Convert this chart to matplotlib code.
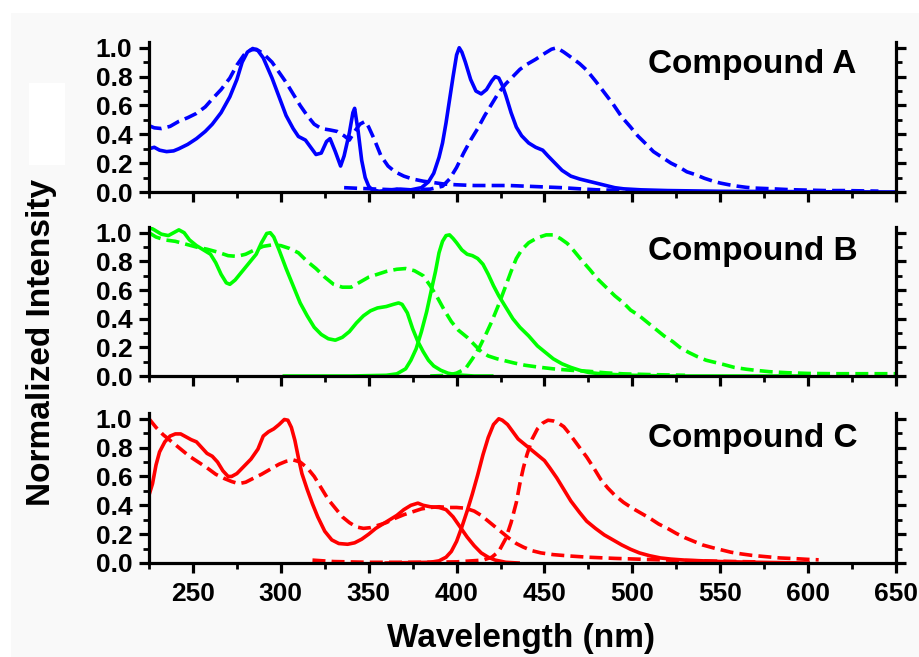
import matplotlib
matplotlib.use('Agg')
import matplotlib.pyplot as plt
from matplotlib.patches import Rectangle
from matplotlib.ticker import MultipleLocator, FormatStrFormatter

# ---------------- data (wavelength nm, normalized intensity) ----------------
# Compound A
A_solid_abs_x = [225, 228, 231, 235, 239, 242, 247, 252, 257, 261, 266, 271, 275, 278, 281, 284, 287, 290,
                 295, 299, 303, 307, 310, 314, 317, 320, 323, 326, 328, 331, 334, 336, 339, 341, 342, 344,
                 346, 348, 350, 352, 356, 360, 366, 370, 376, 382]
A_solid_abs_y = [0.30, 0.31, 0.29, 0.28, 0.285, 0.30, 0.33, 0.37, 0.42, 0.47, 0.55, 0.66, 0.78, 0.90, 0.97,
                 0.995, 0.98, 0.93, 0.79, 0.66, 0.53, 0.44, 0.385, 0.36, 0.31, 0.26, 0.27, 0.35, 0.37, 0.28,
                 0.18, 0.25, 0.41, 0.55, 0.58, 0.42, 0.22, 0.10, 0.04, 0.015, 0.005, 0.01, 0.02, 0.01, 0.005, 0.0]
A_solid_em_x = [355, 362, 368, 374, 380, 384, 387, 390, 392, 394, 396, 398, 400, 401.5, 403, 405, 408, 411,
                414, 417, 420, 422, 424, 426, 428, 431, 434, 437, 441, 445, 449, 452, 456, 460, 465, 470,
                475, 480, 485, 490, 495, 505, 520, 550, 600, 650]
A_solid_em_y = [0.0, 0.01, 0.02, 0.015, 0.03, 0.07, 0.13, 0.24, 0.34, 0.48, 0.64, 0.80, 0.95, 1.0, 0.97,
                0.90, 0.78, 0.70, 0.68, 0.71, 0.77, 0.80, 0.79, 0.74, 0.67, 0.55, 0.45, 0.39, 0.34, 0.31,
                0.29, 0.25, 0.20, 0.15, 0.11, 0.09, 0.075, 0.06, 0.045, 0.03, 0.022, 0.015, 0.01, 0.005,
                0.002, 0.0]
A_dash_abs_x = [225, 228, 232, 237, 242, 247, 252, 257, 261, 266, 271, 275, 279, 283, 286, 290, 295, 299,
                303, 307, 311, 315, 319, 323, 328, 332, 336, 339, 342, 345, 348, 350, 353, 357, 361, 365,
                370, 375, 381, 387, 393, 400, 410, 420, 430, 440, 450, 460, 470, 480, 490, 500, 510, 520]
A_dash_abs_y = [0.46, 0.445, 0.44, 0.455, 0.49, 0.515, 0.545, 0.59, 0.645, 0.71, 0.79, 0.88, 0.95, 0.985,
                0.99, 0.96, 0.90, 0.83, 0.76, 0.68, 0.60, 0.53, 0.47, 0.44, 0.43, 0.42, 0.39, 0.36, 0.42,
                0.47, 0.49, 0.45, 0.37, 0.25, 0.18, 0.14, 0.11, 0.09, 0.075, 0.065, 0.055, 0.05, 0.045,
                0.045, 0.045, 0.04, 0.035, 0.03, 0.022, 0.015, 0.012, 0.01, 0.008, 0.005]
A_dash_em_x = [336, 345, 355, 365, 375, 385, 392, 396, 400, 404, 408, 412, 416, 420, 424, 428, 432, 436,
               440, 445, 450, 454, 457, 461, 465, 470, 474, 479, 484, 489, 494, 499, 503, 508, 512, 517,
               522, 527, 531, 536, 541, 546, 550, 555, 560, 565, 570, 580, 590, 600, 610, 620, 630, 640]
A_dash_em_y = [0.03, 0.025, 0.02, 0.015, 0.015, 0.02, 0.04, 0.09, 0.17, 0.27, 0.36, 0.44, 0.53, 0.61, 0.69,
               0.75, 0.80, 0.85, 0.885, 0.92, 0.96, 0.99, 1.0, 0.97, 0.935, 0.89, 0.845, 0.77, 0.69, 0.61,
               0.52, 0.45, 0.39, 0.33, 0.28, 0.24, 0.20, 0.17, 0.14, 0.12, 0.095, 0.075, 0.062, 0.05, 0.04,
               0.032, 0.027, 0.022, 0.016, 0.013, 0.01, 0.01, 0.008, 0.006]

# Compound B
B_solid_abs_x = [225, 228, 232, 236, 239, 242, 245, 248, 252, 256, 260, 263, 266, 269, 271, 274, 278, 282,
                 286, 289, 292, 294, 296, 299, 303, 307, 311, 315, 319, 323, 327, 331, 335, 339, 343, 347,
                 351, 355, 360, 364, 367, 369, 372, 375, 378, 381, 384, 387, 391, 395, 400, 410, 420]
B_solid_abs_y = [1.04, 1.02, 0.99, 0.98, 1.0, 1.02, 1.0, 0.95, 0.91, 0.88, 0.85, 0.79, 0.71, 0.65, 0.64,
                 0.67, 0.73, 0.79, 0.85, 0.93, 0.995, 1.0, 0.97, 0.88, 0.75, 0.63, 0.51, 0.42, 0.34, 0.29,
                 0.26, 0.25, 0.27, 0.31, 0.37, 0.42, 0.455, 0.475, 0.485, 0.50, 0.51, 0.50, 0.44, 0.33,
                 0.24, 0.17, 0.11, 0.07, 0.04, 0.02, 0.008, 0.0, 0.0]
B_solid_em_x = [302, 340, 360, 366, 371, 374, 377, 380, 383, 386, 388, 390, 392, 394, 396, 398, 400, 403,
                406, 409, 412, 415, 418, 421, 424, 428, 432, 436, 441, 446, 451, 455, 460, 465, 470, 475,
                480, 490, 500, 520, 560, 600]
B_solid_em_y = [0.0, 0.0, 0.005, 0.015, 0.05, 0.11, 0.19, 0.31, 0.45, 0.62, 0.73, 0.86, 0.94, 0.98, 0.985,
                0.96, 0.93, 0.88, 0.85, 0.84, 0.82, 0.78, 0.71, 0.63, 0.56, 0.48, 0.40, 0.34, 0.28, 0.21,
                0.16, 0.12, 0.085, 0.06, 0.04, 0.025, 0.018, 0.01, 0.005, 0.0, 0.0, 0.0]
B_dash_abs_x = [225, 229, 234, 240, 246, 252, 258, 264, 270, 275, 280, 285, 290, 295, 300, 305, 310, 315,
                320, 325, 330, 335, 340, 345, 350, 355, 360, 366, 371, 376, 381, 385, 389, 393, 397, 401,
                406, 410, 414, 418, 423, 428, 433, 439, 446, 455, 465, 475, 485, 495, 510, 530]
B_dash_abs_y = [1.0, 0.97, 0.95, 0.94, 0.92, 0.90, 0.885, 0.865, 0.84, 0.835, 0.85, 0.88, 0.905, 0.915,
                0.91, 0.89, 0.86, 0.80, 0.75, 0.69, 0.64, 0.62, 0.62, 0.655, 0.69, 0.71, 0.73, 0.745, 0.75,
                0.735, 0.70, 0.63, 0.55, 0.46, 0.38, 0.32, 0.27, 0.22, 0.17, 0.14, 0.12, 0.105, 0.09,
                0.075, 0.063, 0.05, 0.04, 0.033, 0.022, 0.015, 0.01, 0.005]
B_dash_em_x = [385, 395, 400, 405, 409, 413, 417, 420, 424, 428, 431, 434, 437, 441, 446, 451, 455, 459,
               463, 467, 471, 476, 480, 485, 490, 495, 499, 504, 508, 513, 518, 523, 527, 532, 537, 542,
               547, 552, 558, 565, 570, 578, 588, 600, 615, 630, 645, 650]
B_dash_em_y = [0.0, 0.005, 0.02, 0.05, 0.12, 0.20, 0.30, 0.38, 0.50, 0.63, 0.73, 0.82, 0.88, 0.93, 0.965,
               0.985, 0.985, 0.96, 0.925, 0.87, 0.81, 0.74, 0.68, 0.62, 0.56, 0.51, 0.46, 0.42, 0.38, 0.33,
               0.28, 0.24, 0.20, 0.165, 0.135, 0.11, 0.095, 0.08, 0.06, 0.047, 0.04, 0.03, 0.023, 0.018,
               0.016, 0.016, 0.016, 0.016]

# Compound C
C_solid_abs_x = [225, 227, 229, 231, 234, 237, 240, 243, 246, 249, 252, 255, 258, 261, 264, 267, 270, 272,
                 275, 279, 283, 287, 290, 293, 296, 299, 302, 304, 306, 308, 310, 312, 315, 318, 321, 325,
                 329, 333, 338, 342, 346, 350, 354, 358, 362, 366, 370, 374, 378, 381, 385, 390, 394, 398,
                 402, 406, 410, 414, 418, 422, 428, 435]
C_solid_abs_y = [0.47, 0.55, 0.68, 0.77, 0.84, 0.88, 0.895, 0.895, 0.875, 0.855, 0.84, 0.80, 0.76, 0.74,
                 0.70, 0.64, 0.60, 0.60, 0.62, 0.67, 0.72, 0.79, 0.88, 0.91, 0.93, 0.96, 0.995, 0.99, 0.94,
                 0.85, 0.73, 0.62, 0.51, 0.41, 0.32, 0.22, 0.16, 0.135, 0.13, 0.14, 0.165, 0.20, 0.24,
                 0.27, 0.30, 0.33, 0.37, 0.40, 0.415, 0.40, 0.39, 0.385, 0.37, 0.32, 0.25, 0.18, 0.12,
                 0.07, 0.04, 0.02, 0.005, 0.0]
C_solid_em_x = [360, 385, 390, 394, 397, 400, 403, 406, 409, 412, 415, 418, 421, 424, 426, 429, 432, 435,
                438, 441, 444, 447, 450, 453, 457, 461, 465, 470, 474, 479, 484, 489, 494, 499, 504, 510,
                516, 522, 530, 540, 550, 570, 600]
C_solid_em_y = [0.0, 0.005, 0.015, 0.04, 0.08, 0.15, 0.25, 0.36, 0.48, 0.61, 0.75, 0.87, 0.96, 1.0, 0.99,
                0.96, 0.91, 0.86, 0.83, 0.80, 0.77, 0.74, 0.71, 0.66, 0.59, 0.51, 0.43, 0.35, 0.29, 0.24,
                0.195, 0.16, 0.125, 0.095, 0.07, 0.05, 0.035, 0.027, 0.02, 0.015, 0.01, 0.005, 0.0]
C_dash_abs_x = [225, 229, 233, 238, 243, 248, 253, 258, 263, 268, 272, 276, 280, 284, 289, 294, 299, 303,
                307, 311, 315, 319, 323, 327, 331, 335, 339, 343, 347, 351, 355, 360, 365, 370, 375, 380,
                385, 390, 395, 400, 405, 410, 414, 418, 422, 426, 430, 434, 438, 443, 448, 455, 465, 475,
                490, 510, 530, 550, 570]
C_dash_abs_y = [1.0, 0.94, 0.89, 0.84, 0.79, 0.74, 0.70, 0.66, 0.615, 0.585, 0.565, 0.55, 0.56, 0.585,
                0.615, 0.65, 0.685, 0.705, 0.715, 0.70, 0.66, 0.60, 0.52, 0.44, 0.38, 0.32, 0.28, 0.25,
                0.24, 0.245, 0.26, 0.28, 0.31, 0.335, 0.355, 0.375, 0.385, 0.39, 0.385, 0.385, 0.38, 0.36,
                0.33, 0.29, 0.25, 0.21, 0.17, 0.135, 0.11, 0.085, 0.07, 0.058, 0.048, 0.04, 0.032, 0.024,
                0.017, 0.012, 0.008]
C_dash_em_x = [318, 330, 350, 380, 400, 415, 420, 424, 428, 431, 434, 436, 438, 440, 443, 446, 449, 452,
               455, 458, 461, 464, 467, 470, 474, 478, 482, 486, 490, 495, 500, 505, 510, 515, 520, 525,
               530, 535, 540, 546, 551, 556, 562, 568, 575, 584, 593, 600, 606]
C_dash_em_y = [0.02, 0.01, 0.005, 0.005, 0.008, 0.02, 0.04, 0.08, 0.17, 0.28, 0.42, 0.55, 0.66, 0.75, 0.86,
               0.93, 0.97, 0.99, 0.985, 0.97, 0.945, 0.90, 0.85, 0.80, 0.735, 0.66, 0.58, 0.52, 0.47, 0.42,
               0.38, 0.345, 0.31, 0.27, 0.24, 0.205, 0.175, 0.15, 0.125, 0.105, 0.09, 0.075, 0.063, 0.053,
               0.045, 0.035, 0.03, 0.025, 0.022]

panel_names = ['Compound A', 'Compound B', 'Compound C']
panel_colors = ['#0000ff', '#00ff00', '#ff0000']
x_ticks = [250, 300, 350, 400, 450, 500, 550, 600, 650]
y_ticks = [0.0, 0.2, 0.4, 0.6, 0.8, 1.0]

panels = [
    (A_solid_abs_x, A_solid_abs_y, A_solid_em_x, A_solid_em_y, A_dash_abs_x, A_dash_abs_y, A_dash_em_x, A_dash_em_y),
    (B_solid_abs_x, B_solid_abs_y, B_solid_em_x, B_solid_em_y, B_dash_abs_x, B_dash_abs_y, B_dash_em_x, B_dash_em_y),
    (C_solid_abs_x, C_solid_abs_y, C_solid_em_x, C_solid_em_y, C_dash_abs_x, C_dash_abs_y, C_dash_em_x, C_dash_em_y),
]

# ---------------- figure ----------------
plt.rcParams['font.family'] = ['Liberation Sans', 'DejaVu Sans']
plt.rcParams['font.weight'] = 'bold'

W, H = 920, 657
fig = plt.figure(figsize=(W / 100, H / 100), dpi=100)
fig.patch.set_facecolor('white')
fig.add_artist(Rectangle((11 / W, 0), 1, 1 - 13 / H, transform=fig.transFigure,
                         facecolor='#f9f9f9', edgecolor='none', zorder=-10))
fig.add_artist(Rectangle((29 / W, 1 - 165 / H), 36 / W, 82 / H, transform=fig.transFigure,
                         facecolor='white', edgecolor='none', zorder=-9))

left_px, right_px = 149, 896
tops = [42, 227, 413]
bottoms = [192, 376, 563]
text_base = [73, 260, 447]

LW = 2.6
for i, (data, name, col) in enumerate(zip(panels, panel_names, panel_colors)):
    ax = fig.add_axes([left_px / W, 1 - bottoms[i] / H, (right_px - left_px) / W, (bottoms[i] - tops[i]) / H])
    ax.set_facecolor('none')
    sax, say, sex, sey, dax, day, dex, dey = data
    ax.plot(dax, day, color=col, lw=LW, linestyle=(0, (3.6, 1.7)), dash_capstyle='butt')
    ax.plot(dex, dey, color=col, lw=LW, linestyle=(0, (3.6, 1.7)), dash_capstyle='butt')
    ax.plot(sax, say, color=col, lw=LW, solid_joinstyle='round')
    ax.plot(sex, sey, color=col, lw=LW, solid_joinstyle='round')

    ax.set_xlim(225, 650)
    ax.set_ylim(0, 1.04)
    ax.set_xticks(x_ticks)
    ax.xaxis.set_minor_locator(MultipleLocator(25))
    ax.set_yticks(y_ticks)
    ax.yaxis.set_minor_locator(MultipleLocator(0.1))
    ax.yaxis.set_major_formatter(FormatStrFormatter('%.1f'))

    ax.spines['top'].set_visible(False)
    for s in ['left', 'bottom', 'right']:
        ax.spines[s].set_linewidth(2.3)
        ax.spines[s].set_color('black')
    ax.tick_params(axis='both', which='major', direction='out', length=7, width=2.3,
                   labelsize=19, colors='black')
    ax.tick_params(axis='both', which='minor', direction='out', length=4, width=2.0)
    ax.tick_params(axis='y', which='both', left=True, right=True, labelright=False, pad=5)
    ax.tick_params(axis='x', which='both', bottom=True, top=False, pad=7)
    if i < 2:
        ax.tick_params(axis='x', labelbottom=False)
    for lab in ax.get_xticklabels() + ax.get_yticklabels():
        lab.set_fontweight('bold')

    y_frac = (bottoms[i] - text_base[i]) / (bottoms[i] - tops[i])
    ax.text((648 - left_px) / (right_px - left_px), y_frac, name, transform=ax.transAxes,
            fontsize=24, fontweight='bold', ha='left', va='baseline', color='black')

fig.text(521 / W, 1 - 647 / H, 'Wavelength (nm)', ha='center', va='baseline',
         fontsize=24, fontweight='bold')
fig.text(42 / W, 1 - 342 / H, 'Normalized Intensity', rotation=90, ha='center', va='center',
         fontsize=24, fontweight='bold')

fig.savefig('out.png', dpi=100, facecolor=fig.get_facecolor())
